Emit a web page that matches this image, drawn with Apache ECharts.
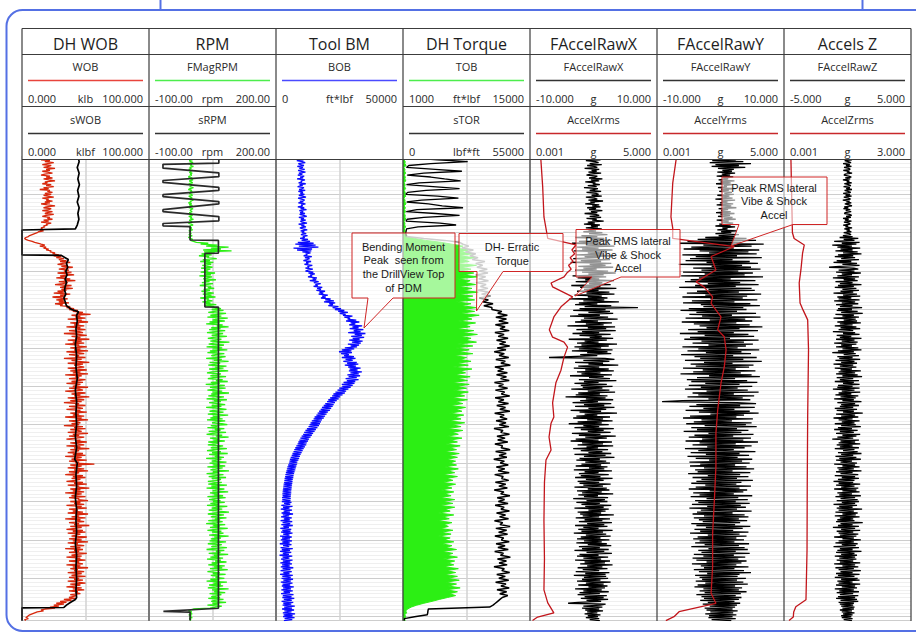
<!DOCTYPE html>
<html>
<head>
<meta charset="utf-8">
<script src="https://cdn.jsdelivr.net/npm/echarts@6/dist/echarts.min.js"></script>
<style>
html,body{margin:0;padding:0;background:#fff;}
#chart{width:916px;height:633px;}
</style>
</head>
<body>
<div id="chart"></div>
<script>
// ---------------- DATA ----------------
// fine noisy traces: one value every 0.25 depth units (depth 0..121)
// coarse traces (TOB, STOR): one value every 0.5 depth units (depth 0..121)
const FINE_STEP = 0.25;
const COARSE_STEP = 0.5;

const TRACK_TITLES = ['DH WOB','RPM','Tool BM','DH Torque','FAccelRawX','FAccelRawY','Accels Z'];
const CURVE1_LABELS = [
  ['WOB','0.000','klb','100.000'],
  ['FMagRPM','-100.00','rpm','200.00'],
  ['BOB','0','ft*lbf','50000'],
  ['TOB','1000','ft*lbf','15000'],
  ['FAccelRawX','-10.000','g','10.000'],
  ['FAccelRawY','-10.000','g','10.000'],
  ['FAccelRawZ','-5.000','g','5.000']
];
const CURVE2_LABELS = [
  ['sWOB','0.000','klbf','100.000'],
  ['sRPM','-100.00','rpm','200.00'],
  null,
  ['sTOR','0','lbf*ft','55000'],
  ['AccelXrms','0.001','g','5.000'],
  ['AccelYrms','0.001','g','5.000'],
  ['AccelZrms','0.001','g','3.000']
];
const CURVE1_RANGE = [[0,100],[-100,200],[0,50000],[1000,15000],[-10,10],[-10,10],[-5,5]];
const CURVE2_RANGE = [[0,100],[-100,200],null,[0,55000],[0.001,5],[0.001,5],[0.001,3]];

const WOB = [
21,17,24,19,15,22,18,25,20,16,23,21,17,26,19,22,16,20,24,18,
15,22,19,24,17,21,26,18,20,16,23,19,25,17,21,14,22,20,24,18,
23,17,20,25,16,21,19,24,18,22,15,20,26,19,17,23,21,16,24,20,
18,25,19,16,22,20,24,17,21,15,23,19,20,17,18,15,16,14,17,13,
12,10,8,6,5,3,2,3,5,8,10,13,15,18,14,19,17,21,19,23,
22,26,24,29,25,31,27,33,29,35,30,38,32,28,36,31,40,34,29,37,
33,39,28,36,41,30,35,27,38,33,42,29,36,32,26,39,34,30,40,31,
35,28,33,25,38,30,34,24,31,36,27,33,29,37,26,32,30,38,35,41,
37,44,40,48,43,54,39,46,42,50,36,47,44,52,38,45,41,49,35,46,
43,50,37,45,48,33,44,51,39,46,42,53,36,47,40,49,34,45,43,51,
38,46,41,52,35,44,49,37,45,42,50,33,47,39,44,53,36,48,41,45,
49,36,43,51,38,46,40,52,34,47,42,45,37,50,44,39,48,35,46,43,
40,52,37,45,48,34,43,50,39,46,41,53,36,44,49,38,47,33,45,42,
50,37,44,48,35,46,42,51,38,45,40,49,34,47,43,52,37,44,46,39,
45,33,48,41,50,38,44,47,36,52,40,45,37,49,43,35,46,42,51,38,
44,49,35,46,41,53,38,45,42,36,48,40,50,34,47,43,39,51,37,45,
42,57,38,47,44,36,49,41,52,37,45,43,34,48,40,50,39,46,42,35,
48,41,51,36,45,43,53,38,46,40,49,34,47,42,39,50,37,45,44,52,
38,46,41,49,35,47,43,51,37,44,40,48,36,52,42,45,39,50,34,46,
43,49,37,45,41,53,38,47,42,35,48,40,50,36,46,43,39,51,44,37,
47,40,52,36,44,42,49,38,46,34,48,41,45,37,51,43,39,47,35,46,
42,50,37,45,43,48,35,46,40,52,38,44,41,49,36,47,43,39,50,37,
45,41,48,36,44,50,38,46,42,35,47,40,49,37,44,42,46,38,43,40,
37,42,33,39,30,35,27,33,25,29,22,26,18,15,17,12,10,8,6,5,
4,3,5,2,3];

const SWOB_DEPTH = [0,1.5,3,4.5,6,7.5,9,10.5,12,13.5,15,16.5,18,19,19.3,25.8,25.9,26.5,27,28,29,30,31,32,33,34,35,36,37,38,39,40,40.6,41.5,43,45,47,49,52,55,58,61,64,67,70,73,76,79,80,83,86,89,92,95,98,101,104,107,110,113,115,115.5,116.3,117,117.6,117.7,121];
const SWOB = [44,45,43.5,45,44,45.2,43.8,44.8,43.5,45,44,44.8,43.5,42,0,0,31,34,36.5,35,36,34.5,35.5,34,35,34,33.5,34.5,33,34,35,39,44.5,43,43.5,42.5,43,42,43,42.5,43.5,42,43,42.5,43,42,43,41.5,43.5,42.5,43,42,43,42.5,43,42,43,42.5,43,42.5,43,42,38,35,33,0,0];

const FMAGRPM = [
-3,2,-6,0,3,-5,-1,4,-7,1,-2,5,-4,0,-6,3,-1,-5,2,-3,
1,-4,-7,2,-2,4,-5,0,3,-6,-1,2,-4,5,-3,-7,1,-2,4,-5,
-1,3,-6,-2,2,-4,5,-3,0,-7,1,-5,3,-2,-6,4,-1,-3,2,-5,
0,-4,3,-6,1,-2,5,-5,-1,2,-7,0,4,-3,-5,1,-2,3,-6,-1,
-4,0,-6,2,-3,-7,-1,3,-2,5,12,40,22,62,35,88,46,70,28,95,
30,55,24,48,18,42,36,60,27,44,21,52,33,47,26,38,50,23,45,31,
40,22,56,33,46,19,49,37,28,58,30,43,25,51,35,20,47,39,54,29,
44,24,38,53,27,48,32,57,21,41,36,50,26,45,34,59,30,52,55,70,
48,76,55,40,82,62,45,71,38,86,58,50,79,43,67,35,74,60,88,47,
69,42,80,56,37,75,63,48,84,52,39,71,60,45,90,54,41,77,66,36,
73,50,85,44,62,38,78,57,47,81,65,35,72,53,88,43,68,59,40,83,
55,76,42,64,87,49,37,70,61,45,82,52,39,74,58,86,46,67,34,79,
63,44,81,56,38,73,50,89,47,66,40,77,59,36,84,53,70,42,62,80,
48,71,35,65,83,54,43,76,60,39,87,51,68,45,74,37,80,57,49,72,
85,46,62,38,78,55,69,41,82,50,36,73,58,88,44,67,52,79,40,64,
57,39,75,61,46,84,53,37,70,49,86,42,66,55,77,35,71,60,48,83,
43,68,52,80,38,74,59,45,89,51,64,36,76,57,41,82,48,70,62,39,
72,55,40,84,47,67,36,78,60,50,87,44,63,53,75,38,81,56,42,69,
51,79,45,66,37,85,58,48,73,41,64,89,53,39,77,61,46,83,55,68,
40,74,60,35,80,52,67,44,86,57,38,71,49,76,63,42,88,54,70,46,
66,43,82,55,39,72,61,47,84,50,36,78,58,69,41,87,53,64,45,75,
37,70,56,83,48,62,40,79,53,73,44,86,59,38,67,51,81,46,65,57,
78,45,64,36,84,52,70,42,75,58,39,88,49,66,54,80,43,71,60,47,
68,40,76,55,47,82,50,63,38,72,57,44,5,-2,-7,1,-4,2,-6,0,
-3,2,-5,-1,-3];

const SRPM_DEPTH = [0,1.9,2.2,3.2,4.4,5.4,6.4,6.9,8.2,9.0,10.1,10.6,11.9,12.5,14.0,14.5,15.8,16.9,17.6,18.2,18.4,21.9,22.0,25.3,25.4,39.3,39.4,117.8,118.6,118.8,121];
const SRPM = [65,65,-67,-67,65,65,-67,-67,65,65,-67,-67,65,65,-67,-67,65,65,-67,-67,-3,-3,64,64,32,32,64,64,-66,-3,-3];

const BOB = [
9900,8500,11200,9400,10800,8200,10300,11500,8800,9700,11000,8400,10600,9200,11300,8700,10100,11600,9000,10400,
8600,11100,9500,10700,8300,11400,9800,10200,8900,11700,9300,10500,8500,11000,10300,9100,11500,8800,10600,9600,
11200,9000,10400,11800,8700,10000,11300,9400,10800,8800,11600,9900,10500,8600,11100,9700,12000,9200,10700,9500,
11400,9300,10900,12100,9000,11000,9800,11700,9600,10300,12200,8900,11200,10000,11800,9400,10700,12300,9700,11100,
10200,11900,9800,12400,10600,11300,9500,12600,10100,13400,8600,14800,7600,15600,9000,16700,6900,14200,8300,13900,
10400,13600,11700,12300,10900,14100,11400,13200,12100,10800,13800,11900,12700,11200,14300,12400,13000,11600,14500,12600,
11600,14700,12800,15300,13500,14200,12600,16100,14400,15800,13300,16800,14900,17600,15500,16400,14800,18200,16200,17700,
15900,19300,17100,18600,16800,20400,18200,19600,17700,21500,19400,22800,18900,23300,21000,22400,20600,24600,22300,25600,
23200,26900,24500,28300,25100,27400,26400,30100,26900,29200,28200,31600,27600,32800,29400,31200,28800,33900,30100,32500,
29000,34400,30600,33300,28400,35200,31000,33800,29600,34700,30200,32900,28800,34100,29900,33400,28300,32700,29400,31900,
27100,30800,25900,29700,24800,29900,25600,28700,26800,30700,25900,31300,27400,30200,26500,31800,28000,32400,27100,31500,
28400,33300,29000,32100,28700,33800,29300,32600,28100,33100,28600,31800,27400,32500,27900,31200,26600,30900,25900,30200,
26100,29400,24900,28500,24200,27600,23400,27100,22600,26200,22100,25300,21300,24700,20600,23900,20100,23200,19400,22700,
18800,22300,18100,21700,17600,21200,17000,20400,16400,19900,15900,19300,15200,18800,14800,18100,14100,17700,13600,17300,
13200,16900,12800,16300,12200,15700,11600,15200,11100,14600,10700,14100,10100,13600,9600,13000,9200,12600,8800,12100,
8500,11900,8000,11400,7600,10900,7200,10500,6900,10100,6500,9700,6200,9400,5800,9100,5500,8800,5300,8400,
5100,8300,4800,8000,4500,7800,4300,7600,4100,7300,3900,7100,3700,6900,3600,6800,3400,6600,3300,6500,
3200,6400,3000,6300,2900,6200,2800,6100,2700,6000,2600,6000,2500,5900,2600,5800,2400,5800,2500,5700,
2300,6100,3200,5600,2100,6500,2800,5300,1900,6300,3000,5500,2200,6700,2700,5200,2000,6200,3100,5400,
1800,6400,2600,5600,2100,6600,2900,5100,1700,6000,2500,5700,2000,6500,2800,5300,1600,6200,2400,5500,
1900,6300,2500,5400,1500,6100,2800,5200,1800,6600,2300,5500,1600,6000,2700,5100,1400,6400,2600,5300,
2000,6500,2700,5600,1700,6300,2400,5400,1900,6800,2600,5700,1800,6200,2900,5300,1600,6600,2500,5800,
2200,6700,2900,5800,1900,6500,2600,5600,2300,7000,2800,5900,2100,6600,3000,5500,2000,6900,2700,6100,
2500,7200,3100,6200,2200,6800,2900,6000,2600,7400,3200,6300,2400,7100,3300,6100,2700,7500,3000,6500,
2800,7300,3400,6400,3100];

const TOB = [
1150,1300,1100,1250,1200,1350,1080,1220,1180,1300,1120,1260,1200,1320,1100,1240,1170,1290,1130,1250,
1190,1310,1090,1230,1210,1340,1110,1270,1160,1300,1140,1250,1210,1330,1100,1220,1180,1290,1120,1260,
1200,1350,1500,2300,3500,5200,6400,7600,6900,8200,7300,8600,7100,8900,7500,8300,6800,9100,7400,8500,
7200,8800,7600,9200,6900,8400,7800,9000,7100,8600,7500,9300,7000,8700,7700,8900,6800,8500,7400,9100,
7600,8900,7200,9400,7900,8600,7100,9000,7700,8400,6900,8800,7500,9200,7300,8500,7800,9100,7000,8700,
6800,8300,7100,8700,6600,8000,7300,8500,6900,8200,6500,8600,7200,7900,6700,8400,7000,8100,6400,8300,
6900,8000,6500,8200,7000,7800,6300,8100,6700,7600,6200,7900,6800,7500,6100,7700,6600,7400,6000,7800,
6300,7400,5900,7600,6400,7100,5800,7500,6200,7000,5700,7300,6100,6900,5600,7200,6000,7000,5800,6800,
6100,6900,5600,7100,5900,6700,5400,7000,5800,6500,5300,6800,5700,6400,5200,6600,5500,6300,5100,6700,
5400,6500,5000,6700,5600,6200,4900,6600,5300,6100,4800,6400,5500,6000,5100,6500,5200,6300,4900,6200,
5500,6600,5200,6400,5700,6900,5300,6500,5800,7000,5400,6700,5900,6600,5500,7100,5800,6800,5600,7000,
5900,7200,5700,6900,6000,7300,5800,7000,6100,6800,5900,5000,4200,3300,2500,1900,1500,1300,1400,1200,
1300,1150,1250];

const STOR = [
8000,3000,15000,28000,12000,2500,1500,14000,25500,9000,1800,12000,18000,25000,7000,1500,13000,24500,10000,2000,
1200,15000,24000,8000,1600,11000,17000,26000,6000,1400,14000,24500,9000,1800,1300,16000,23000,6500,1500,1400,
1200,1300,1500,9000,18000,24500,26000,28500,25500,30500,27000,31500,29000,32500,30000,35500,31500,34500,32000,36500,
33000,36800,31500,35800,32800,37000,31800,36000,33500,36800,32400,37500,34000,38000,33000,37000,34500,39000,35000,38500,
38500,42800,41000,45200,40200,44800,41500,45600,40000,44200,42000,46000,39800,43800,41200,45500,40500,44500,41800,46200,
40800,44600,39500,43900,41600,45800,40200,44300,42400,46500,39800,43600,41000,45200,40500,44800,42200,46000,39600,43500,
41400,45300,40000,44000,42600,46200,39900,43700,41300,45700,40600,44400,41900,46300,39700,43800,42000,45100,40300,44600,
41700,45900,39400,43300,42300,46100,40700,44200,41000,45400,39800,43100,42500,46400,40100,44700,41600,45000,39300,43900,
42100,45600,40400,44100,41200,46000,39700,43400,42700,45800,40000,44500,41500,45200,39500,43700,42300,46300,40800,44000,
41300,45500,39900,43800,42400,46100,40500,44400,41800,45700,39600,43200,42000,46400,40200,44900,41400,45300,39800,43600,
42600,46000,40300,44200,41100,45600,39700,43500,42200,46500,40900,44800,41600,45100,39400,43900,42800,46200,40600,44300,
41500,45800,40100,44600,42400,46000,40700,44900,41900,45400,43000,42000,41000,40000,39000,37500,11000,10800,10700,10500,
5000,600,500];
// depth span of the grey-coloured section of sTOR
const STOR_GREY_SPAN = [21, 37];

const RAWX = [
0.4,-0.9,0.7,-0.2,1.1,-1.2,0.3,0.8,-0.6,1.3,-1.0,0.1,0.6,-1.4,0.9,-0.3,0.5,-0.8,1.2,-0.5,
-1.1,0.6,0.2,-0.7,1.4,-0.4,0.9,-1.3,0.3,-0.1,1.0,-0.9,0.5,-1.5,0.7,0.2,-0.6,1.2,-1.1,0.4,
0.8,-0.3,1.3,-1.2,0.1,0.6,-0.8,1.5,-0.5,0.2,-1.3,0.9,-0.2,1.1,-1.0,0.4,-0.7,1.4,-0.4,0.6,
-1.4,0.3,0.9,-0.6,1.2,-1.1,0.5,-0.2,1.6,-0.9,0.2,-1.5,1.0,-0.4,0.7,-1.2,1.3,-0.8,0.4,-1.6,
1.4,-0.7,2.2,-1.9,0.6,-2.8,1.7,-0.5,2.9,-2.3,1.1,-3.4,2.4,-1.2,3.3,-2.6,0.8,-1.8,3.0,-3.1,
2.1,-0.9,1.5,-2.7,3.4,-1.4,0.7,-3.2,2.6,-2.0,1.2,-3.6,2.8,-0.6,1.9,-2.4,3.1,-1.6,0.5,-2.9,
2.3,-1.8,3.5,-0.8,1.6,-3.3,2.0,-2.5,0.9,-1.3,3.2,-2.8,1.4,-0.7,2.7,-3.5,1.1,-2.1,3.6,-1.5,
0.8,-2.6,2.5,-1.1,3.3,-3.0,1.3,-0.9,2.2,-3.8,1.7,-1.6,4.0,-2.3,0.6,-2.9,2.8,-1.4,7.0,-2.2,
1.9,-3.2,2.6,-0.8,3.1,-2.4,1.0,-3.7,2.3,-1.5,3.8,-2.0,0.7,-2.9,2.9,-1.2,1.6,-4.1,3.4,-0.9,
2.0,-2.7,3.5,-1.8,0.9,-3.3,2.7,-2.2,1.3,-0.6,3.1,-3.9,2.1,-1.4,0.8,-2.6,3.7,-1.9,2.4,-3.0,
1.2,-2.3,3.0,-3.4,2.2,-1.0,2.8,-2.1,0.6,-3.6,-7.0,1.8,3.3,-1.6,2.5,-2.9,1.5,-0.8,3.9,-2.4,
0.9,-3.1,2.4,-1.3,3.2,-2.6,1.1,-1.9,2.9,-3.7,1.6,-0.7,2.6,-2.3,3.6,-1.5,0.8,-3.0,2.1,-2.0,
3.0,-1.7,1.4,-3.5,2.5,-0.9,3.4,-2.4,1.0,-2.8,2.2,-4.4,1.9,-1.2,3.1,-2.1,0.7,-3.3,2.8,-1.5,
1.7,-2.9,3.3,-0.8,2.0,-3.6,1.2,-2.2,3.7,-1.4,0.6,-2.7,2.6,-3.2,1.5,-1.0,3.0,-2.5,1.3,-3.9,
2.4,-1.6,0.9,-3.0,3.2,-2.0,1.6,-0.9,2.7,-3.4,1.1,-2.3,3.5,-1.3,2.1,-2.8,0.8,-3.6,2.9,-1.8,
1.5,-2.5,3.1,-1.1,0.7,-3.2,2.3,-2.0,1.4,-0.8,2.8,-3.0,1.9,-1.5,3.3,-2.2,1.0,-2.7,2.0,-1.3,
2.6,-1.9,1.2,-2.8,2.2,-0.7,1.7,-3.1,2.9,-1.4,0.8,-2.3,2.4,-2.0,1.1,-2.9,3.0,-1.2,1.6,-2.5,
0.9,-2.2,2.7,-1.6,1.5,-3.0,2.1,-0.9,2.5,-2.6,1.3,-1.8,3.1,-2.4,0.7,-1.5,2.3,-3.2,1.8,-1.1,
2.2,-2.7,1.0,-1.9,2.8,-1.3,1.6,-3.0,2.4,-0.8,1.9,-2.5,1.2,-2.1,3.2,-1.7,0.9,-2.8,2.6,-1.4,
1.4,-2.3,2.9,-1.0,1.7,-2.9,2.2,-1.6,0.8,-2.4,3.0,-1.9,1.5,-3.1,2.0,-1.2,2.7,-2.0,1.1,-2.6,
2.5,-1.5,1.3,-2.7,2.1,-0.9,2.8,-2.3,1.0,-1.8,2.4,-3.0,1.7,-1.1,2.9,-2.2,0.8,-2.6,2.3,-1.6,
1.2,-2.9,2.6,-1.4,1.8,-2.1,3.0,-1.0,1.4,-2.5,2.2,-1.7,0.9,-2.8,2.5,-1.3,1.9,-3.1,2.0,-1.5,
2.3,-1.8,1.1,-2.6,2.7,-1.2,1.6,-2.4,2.2,-0.8,1.8,-2.9,1.3,-1.6,2.4,-2.2,1.0,-2.5,2.1,-1.4,
1.6,-2.0,2.3,-1.1,1.2,-2.4,-4.0,1.9,1.1,-1.6,1.4,-1.8,0.9,-1.3,1.5,-1.0,0.6,-1.4,1.1,-0.9,
0.7,-1.2,0.9,-0.6,1.0];

const RMSX_DEPTH = [0,1.1,8,15.9,21.5,23.2,24.5,25.5,26.5,27.5,28.5,29.5,30.5,31.5,33.1,34.1,36.7,39.3,41.95,45.3,47.2,48.5,49.8,52.4,55.8,59.1,64.3,68,69.6,73.2,76.6,79.2,85,95,105,113,116.4,119,120.1,121];
const RMSX = [0.42,0.43,0.5,0.55,0.70,1.81,1.65,1.76,1.58,1.70,1.52,1.62,1.45,1.34,0.83,0.89,1.68,1.22,0.94,0.76,0.89,1.34,1.48,1.34,1.22,1.02,0.89,0.94,0.83,0.75,0.83,0.63,0.57,0.55,0.57,0.55,0.70,0.94,0.30,0.10];

const RAWY = [
0.9,-0.2,1.7,0.1,2.4,-1.3,3.6,-1.7,4.8,-0.8,2.9,-1.4,3.9,-0.4,2.1,0.3,1.8,-0.5,2.3,0.2,
1.5,-0.6,2.0,0.4,1.2,-0.3,2.2,0.0,1.6,-0.7,1.9,0.5,1.0,-0.4,2.4,0.1,1.3,-0.2,1.8,0.6,
2.1,-0.5,1.4,0.3,1.9,-0.8,2.3,0.2,1.1,-0.1,2.0,-0.6,1.7,0.4,2.5,-0.3,1.2,0.1,1.6,-0.7,
2.2,0.0,1.5,-0.4,1.9,0.5,2.4,-0.6,1.3,0.2,2.0,-0.2,1.6,-0.8,2.3,0.3,1.1,-0.5,2.6,0.1,
1.7,-0.8,2.9,-0.3,2.2,-2.4,4.1,-3.6,5.6,-5.2,3.2,-6.4,6.8,-2.7,4.9,-4.6,2.1,-5.8,6.1,-3.3,
4.4,-1.8,5.7,-6.0,2.6,-3.9,6.5,-4.8,1.9,-5.5,4.6,-2.2,5.9,-6.6,3.4,-1.4,4.8,-4.3,6.3,-3.0,
2.8,-5.9,5.1,-2.5,3.8,-6.2,6.7,-3.4,1.6,-4.7,5.5,-5.6,3.1,-2.0,6.0,-4.0,2.4,-6.5,4.9,-1.9,
5.4,-3.7,2.9,-5.3,6.4,-2.4,4.2,-6.0,3.5,-1.6,5.8,-4.5,2.2,-5.9,4.7,-3.1,6.2,-2.7,3.6,-5.0,
4.1,-6.3,2.6,-3.8,5.6,-4.9,1.8,-2.9,6.3,-5.5,3.9,-1.7,5.0,-6.1,2.5,-4.2,4.6,-3.3,6.6,-2.2,
3.0,-5.1,5.9,-3.6,2.1,-6.4,4.4,-2.5,5.3,-4.8,1.5,-5.7,6.0,-3.0,3.7,-4.4,5.1,-1.9,4.0,-6.0,
2.7,-3.5,6.1,-5.2,3.3,-2.3,4.8,-6.2,2.0,-4.1,5.7,-3.2,3.6,-5.6,6.5,-2.6,1.9,-4.7,5.2,-3.9,
4.5,-5.9,2.4,-2.8,5.5,-4.3,3.2,-6.3,4.9,-1.8,6.2,-3.7,2.3,-5.3,4.2,-4.6,5.8,-2.4,3.0,-5.0,
5.0,-3.1,2.7,-5.6,4.3,-2.2,6.0,-4.4,2.1,-3.5,5.3,-5.2,3.5,-1.9,4.7,-6.0,-9.2,2.6,5.6,-3.8,
3.1,-4.9,5.4,-2.7,2.2,-5.5,4.6,-3.4,6.0,-1.6,3.7,-4.8,2.5,-5.9,5.1,-3.0,1.8,-4.2,4.9,-5.4,
4.0,-2.5,5.7,-4.6,2.6,-3.7,4.4,-5.8,3.3,-1.9,5.2,-4.1,2.0,-5.0,4.8,-2.9,3.6,-5.5,5.9,-3.3,
2.4,-4.4,4.9,-2.1,3.8,-5.6,2.1,-3.5,5.5,-4.7,3.0,-2.3,4.5,-5.2,2.7,-3.9,5.0,-1.8,3.4,-4.9,
4.6,-3.2,2.3,-4.8,4.1,-2.6,5.3,-4.0,1.9,-3.6,4.7,-5.1,3.1,-2.0,4.4,-4.4,2.6,-3.0,5.1,-3.8,
3.3,-4.6,2.5,-2.4,4.8,-3.9,3.0,-5.0,4.2,-1.7,3.6,-4.3,2.1,-3.3,5.0,-4.7,2.8,-2.2,4.3,-4.0,
2.4,-3.5,4.6,-4.5,3.2,-2.1,4.0,-4.9,2.6,-3.1,4.9,-3.7,1.9,-4.4,3.8,-2.6,4.4,-4.2,2.9,-3.4,
4.2,-2.8,3.1,-4.6,2.3,-3.8,4.7,-2.3,3.5,-4.1,2.0,-3.2,4.4,-4.8,3.0,-2.0,4.1,-3.6,2.5,-4.3,
3.7,-3.3,2.2,-4.0,4.5,-2.5,2.9,-4.6,3.8,-1.9,4.3,-3.5,2.4,-3.0,4.6,-4.2,2.1,-2.7,3.9,-4.4,
2.8,-3.8,4.1,-2.2,3.3,-4.5,2.5,-3.1,4.4,-2.6,2.2,-4.2,3.7,-3.4,4.8,-2.1,3.0,-4.0,2.7,-3.3,
4.0,-2.9,2.6,-3.9,3.6,-2.4,4.3,-3.6,2.3,-4.1,3.4,-2.7,2.9,-3.3,4.1,-2.5,3.2,-3.8,2.4,-3.0,
3.3,-2.6,2.9,-3.2,2.2,-2.0,3.1,-2.8,2.6,-1.7,2.3,-2.5,1.9,-2.2,2.7,-1.6,2.0,-2.4,2.5,-1.8,
1.9,-1.9,2.4,-1.4,1.7];

const RMSY_DEPTH = [0,1.1,7.1,15.9,18.8,21.5,23.6,26.2,29.7,32.8,34.1,36.7,38.4,41.9,45.3,47.1,50.5,54.9,59.2,66.2,72.2,80.9,89.6,98.3,107,113.9,116.5,118.7,120,121];
const RMSY = [0.78,0.75,0.62,0.55,0.62,0.62,3.05,2.13,2.32,1.54,1.85,2.19,2.13,2.52,2.39,2.65,2.72,2.65,2.52,2.39,2.32,2.32,2.26,2.19,2.19,2.13,2.32,0.87,0.67,0.35];

const RAWZ = [
0.12,-0.3,0.25,-0.08,0.34,-0.22,0.05,0.28,-0.35,0.18,-0.12,0.31,-0.27,0.09,0.22,-0.33,0.15,-0.05,0.36,-0.2,
-0.28,0.1,0.3,-0.18,0.21,-0.36,0.14,-0.06,0.33,-0.25,0.08,0.27,-0.31,0.19,-0.1,0.35,-0.23,0.04,0.26,-0.34,
0.2,-0.15,0.32,-0.29,0.07,0.24,-0.37,0.17,-0.09,0.3,-0.21,0.13,0.35,-0.26,0.06,-0.32,0.23,-0.14,0.29,-0.19,
-0.24,0.16,0.33,-0.11,0.27,-0.35,0.09,-0.2,0.31,-0.28,0.14,0.22,-0.34,0.05,-0.16,0.36,-0.25,0.18,-0.07,0.3,
-0.3,0.12,0.28,-0.36,0.4,-0.62,0.85,-0.3,0.55,-1.05,0.95,-0.45,0.7,-1.2,0.35,-0.8,1.0,-0.55,0.4,-0.95,
0.8,-0.35,1.1,-0.75,0.45,-1.0,0.6,-0.5,0.9,-0.85,0.3,-1.1,0.75,-0.4,0.95,-0.65,-1.45,0.5,0.85,-0.7,
0.55,-0.9,1.05,-0.45,0.35,-0.8,0.9,-1.15,0.6,-0.3,0.8,-0.95,0.4,-0.6,1.1,-0.75,0.5,-1.0,0.7,-0.4,
0.9,-0.55,0.45,-1.1,0.75,-0.35,1.0,-0.8,0.3,-0.7,0.95,-1.05,0.6,-0.45,0.85,-0.9,0.4,-0.6,1.15,-0.75,
0.35,-0.85,0.8,-0.5,1.2,-0.95,0.5,-0.4,0.9,-1.1,0.65,-0.3,0.75,-0.8,1.05,-0.6,0.4,-1.0,0.7,-0.55,
1.0,-0.7,0.45,-1.15,0.6,-0.35,0.95,-0.85,0.3,-0.6,1.1,-0.9,0.55,-0.45,0.8,-1.05,0.7,-0.5,0.35,-0.9,
0.85,-0.4,1.1,-0.75,0.5,-1.2,0.65,-0.3,0.9,-0.8,0.4,-0.65,1.0,-0.95,0.55,-0.5,0.75,-1.1,0.45,-0.6,
0.7,-1.0,0.35,-0.55,1.05,-0.7,0.6,-0.9,0.8,-0.4,1.15,-0.85,0.45,-0.6,0.9,-1.0,0.5,-0.35,0.95,-0.75,
0.4,-0.8,0.95,-1.15,0.55,-0.45,1.0,-0.7,0.3,-0.95,0.85,-0.55,0.65,-1.05,0.5,-0.4,1.1,-0.8,0.6,-0.5,
0.9,-0.6,0.45,-1.0,0.75,-0.85,0.5,-0.35,1.2,-0.9,0.6,-0.5,0.85,-1.1,0.4,-0.7,0.95,-0.45,0.55,-1.0,
0.65,-0.5,1.05,-0.75,0.35,-1.05,0.8,-0.6,0.5,-0.9,1.0,-0.4,0.7,-0.8,0.45,-1.2,0.9,-0.55,0.6,-0.7,
1.0,-0.85,0.4,-0.6,0.9,-1.0,0.55,-0.35,0.8,-0.75,1.1,-0.5,0.45,-0.95,0.7,-0.65,1.05,-0.9,0.35,-0.55,
0.75,-1.05,0.6,-0.4,0.95,-0.8,0.5,-0.7,1.1,-0.9,0.4,-0.55,0.85,-1.0,0.6,-0.45,0.9,-0.75,0.55,-1.1,
0.45,-0.7,1.0,-0.9,0.55,-0.5,0.85,-1.05,0.7,-0.4,0.95,-0.8,0.35,-0.65,1.05,-0.95,0.6,-0.55,0.8,-0.85,
0.9,-0.45,0.6,-1.1,0.75,-0.65,0.4,-0.85,1.15,-0.7,0.5,-0.95,0.8,-0.4,0.65,-1.0,0.95,-0.6,0.45,-0.8,
0.55,-0.9,1.2,-0.55,0.4,-0.75,0.9,-1.15,0.6,-0.5,1.0,-0.85,0.45,-0.7,0.85,-0.6,0.7,-1.05,0.5,-0.4,
1.05,-0.7,0.5,-0.95,0.8,-0.45,0.65,-1.1,0.9,-0.6,0.4,-0.8,1.1,-0.9,0.55,-0.5,0.75,-1.0,0.6,-0.65,
0.7,-0.85,0.45,-0.6,1.0,-1.05,0.6,-0.4,0.85,-0.95,0.5,-0.7,1.05,-0.55,0.4,-0.9,0.95,-0.75,0.55,-1.0,
0.8,-0.5,0.95,-0.8,0.4,-0.7,1.0,-0.9,0.6,-0.45,0.75,-1.0,0.5,-0.65,0.9,-0.85,0.45,-0.6,0.85,-0.75,
0.6,-0.9,0.75,-0.55,0.85,-0.7,0.5,-0.6,0.45,-0.5,0.55,-0.4,0.5,-0.6,0.35,-0.45,0.55,-0.35,0.4,-0.5,
0.3,-0.45,0.4,-0.3,0.35];

const RMSZ_DEPTH = [0,1.1,20,21.5,23.2,25.3,29.7,33.1,38.3,40.1,42.7,50.5,68,85,102.6,115.6,117.4,118.8,120.1,121];
const RMSZ = [0.16,0.165,0.2,0.24,0.48,0.44,0.40,0.36,0.38,0.45,0.56,0.58,0.56,0.55,0.545,0.52,0.28,0.23,0.22,0.12];

const CALLOUT_TEXTS = [
  ['Bending Moment','Peak  seen from','the DrillView Top','of PDM'],
  ['DH- Erratic','Torque'],
  ['Peak RMS lateral','Vibe & Shock','Accel'],
  ['Peak RMS lateral','Vibe & Shock','Accel']
];

// ---------------- LAYOUT / STYLE ----------------
const TL = 22, TW = 127, NT = 7;
const GRID_TOP = 155.9, DEPTH_MAX = 121, PX_PER_DEPTH = 3.84;
const HEAD = {top:28.5, title:43.5, div1:54.5, n1:66.5, l1:80.5, s1:98, div2:106.5, n2:119, l2:133.5, s2:151, bottom:159.5};
const FONT = '"Open Sans","Noto Sans",sans-serif';
const CFONT = '"Liberation Sans",Arial,sans-serif';
const COL = {red:'#d8280c', green:'#2cef14', blue:'#0b0bff', black:'#000000', rms:'#c2161c', grey:'#8a8a8a'};
const HEAD_C1 = ['#e8443c','#4ded4d','#4a4aff','#4ded4d','#333','#333','#333'];
const HEAD_C2 = ['#333','#333',null,'#333','#c8282b','#c8282b','#c8282b'];
const FINE_W = 1.3;
const NOISE_W = 1.5;
const CALLOUT_GEOM = [
  {box:[352,233,455,298], base:[368,393], tip:[364,328], cx:403.5, y0:246.5, lh:13.8},
  {box:[459,233.5,563,271.5], base:[477,503], tip:[476.5,311], cx:512, y0:247, lh:13.5},
  {box:[576,229.5,680,277], base:[592,621], tip:[575,296], cx:628, y0:241, lh:13.5},
  {box:[722,177,827,224.5], base:[739,793], tip:[731,246], cx:774, y0:187.5, lh:13.5}
];

// ---------------- BUILD ----------------
const stepPairs = (vals, step) => vals.map((v, i) => [v, i * step]);
const pairs = (ds, vs) => vs.map((v, i) => [v, ds[i]]);
const DEPTH_CATS = TOB.map((_, i) => String(i * COARSE_STEP));

const grids = [], xAxes = [], yAxes = [];
for (let i = 0; i < NT; i++) {
  grids.push({left: TL + TW * i, top: GRID_TOP, width: TW, height: DEPTH_MAX * PX_PER_DEPTH});
  const r1 = CURVE1_RANGE[i];
  const r2 = CURVE2_RANGE[i] || r1;
  const mid = i < 4;
  xAxes.push({type:'value', gridIndex:i, min:r1[0], max:r1[1], interval:(r1[1]-r1[0])/2,
    axisLine:{show:false}, axisTick:{show:false}, axisLabel:{show:false},
    splitLine:{show:mid, lineStyle:{color:'#d2d2d2', width:1.5}}});
  xAxes.push({type:'value', gridIndex:i, min:r2[0], max:r2[1], position:'top',
    axisLine:{show:false}, axisTick:{show:false}, axisLabel:{show:false}, splitLine:{show:false}});
  yAxes.push({type:'value', gridIndex:i, min:0, max:DEPTH_MAX, inverse:true, interval:10,
    axisLine:{show:false}, axisTick:{show:false}, axisLabel:{show:false},
    splitLine:{show:true, lineStyle:{color:'#cdcdcd', width:1}},
    minorTick:{show:false, splitNumber:10},
    minorSplitLine:{show:true, lineStyle:{color:'#efefef', width:1}}});
}
// category depth axis for the filled TOB curve (grid 3)
yAxes.push({type:'category', gridIndex:3, data:DEPTH_CATS, boundaryGap:false, inverse:true, show:false});

const base = {type:'line', symbol:'none', showSymbol:false, animation:false, silent:true, smooth:false};
function ser(xi, yi, data, color, w, extra) {
  return Object.assign({}, base, {xAxisIndex:xi, yAxisIndex:yi, data:data,
    lineStyle:{color:color, width:w}, itemStyle:{color:color}}, extra || {});
}

const storPairs = stepPairs(STOR, COARSE_STEP);
const storTop = storPairs.filter(p => p[1] <= STOR_GREY_SPAN[0]);
const storGrey = storPairs.filter(p => p[1] >= STOR_GREY_SPAN[0] && p[1] <= STOR_GREY_SPAN[1]);
const storBottom = storPairs.filter(p => p[1] >= STOR_GREY_SPAN[1]);

const series = [
  ser(0, 0, stepPairs(WOB, FINE_STEP), COL.red, FINE_W),
  ser(0, 0, pairs(SWOB_DEPTH, SWOB), COL.black, 1.7),
  ser(2, 1, stepPairs(FMAGRPM, FINE_STEP), COL.green, FINE_W),
  ser(2, 1, pairs(SRPM_DEPTH, SRPM), '#2a2a2a', 1.7),
  ser(4, 2, stepPairs(BOB, FINE_STEP), COL.blue, FINE_W),
  ser(6, 7, TOB, COL.green, 1, {areaStyle:{color:COL.green, opacity:1, origin:'start'}}),
  ser(7, 3, storTop, COL.black, 1.3),
  ser(7, 3, storGrey, COL.grey, NOISE_W),
  ser(7, 3, storBottom, COL.black, NOISE_W),
  ser(8, 4, stepPairs(RAWX, FINE_STEP), COL.black, FINE_W),
  ser(9, 4, pairs(RMSX_DEPTH, RMSX), COL.rms, 1.3),
  ser(10, 5, stepPairs(RAWY, FINE_STEP), COL.black, FINE_W),
  ser(11, 5, pairs(RMSY_DEPTH, RMSY), COL.rms, 1.3),
  ser(12, 6, stepPairs(RAWZ, FINE_STEP), COL.black, FINE_W),
  ser(13, 6, pairs(RMSZ_DEPTH, RMSZ), COL.rms, 1.3)
];

// ---------------- GRAPHICS (header, frame, callouts) ----------------
const G = [];
function txt(x, y, s, size, align, color, font, z) {
  return {type:'text', z:z || 102, style:{x:x, y:y, text:s, fill:color || '#222',
    font: size + 'px ' + (font || FONT), align:align || 'center', verticalAlign:'middle',
    textAlign:align || 'center', textVerticalAlign:'middle'}};
}
function ln(x1, y1, x2, y2, color, w, z) {
  return {type:'line', z:z || 101, shape:{x1:x1, y1:y1, x2:x2, y2:y2}, style:{stroke:color, lineWidth:w || 1}};
}
G.push({type:'rect', z:100, shape:{x:TL, y:20, width:TW * NT, height:HEAD.bottom - 20}, style:{fill:'#fff'}});
const RIGHT = TL + TW * NT;
[HEAD.top, HEAD.div1, HEAD.bottom].forEach(y => G.push(ln(TL, y, RIGHT, y, '#3c3c3c', 1.2)));
for (let i = 0; i < NT; i++) {
  const L = TL + TW * i, R = L + TW, C = L + TW / 2;
  G.push(txt(C, HEAD.title, TRACK_TITLES[i], 16, 'center', '#1e1e1e'));
  const c1 = CURVE1_LABELS[i];
  G.push(txt(C, HEAD.n1, c1[0], 11, 'center', '#2a2a2a'));
  G.push(ln(L + 6, HEAD.l1, R - 6, HEAD.l1, HEAD_C1[i], 1.6));
  G.push(txt(L + 6, HEAD.s1, c1[1], 11, 'left', '#2a2a2a'));
  G.push(txt(C, HEAD.s1, c1[2], 11, 'center', '#2a2a2a'));
  G.push(txt(R - 6, HEAD.s1, c1[3], 11, 'right', '#2a2a2a'));
  const c2 = CURVE2_LABELS[i];
  if (c2) {
    G.push(ln(L, HEAD.div2, R, HEAD.div2, '#3c3c3c', 1.2));
    G.push(txt(C, HEAD.n2, c2[0], 11, 'center', '#2a2a2a'));
    G.push(ln(L + 6, HEAD.l2, R - 6, HEAD.l2, HEAD_C2[i], 1.6));
    G.push(txt(L + 6, HEAD.s2, c2[1], 11, 'left', '#2a2a2a'));
    G.push(txt(C, HEAD.s2, c2[2], 11, 'center', '#2a2a2a'));
    G.push(txt(R - 6, HEAD.s2, c2[3], 11, 'right', '#2a2a2a'));
  }
}
for (let i = 0; i <= NT; i++) {
  const x = TL + TW * i;
  G.push(ln(x, HEAD.top, x, 621, '#3c3c3c', 1.2, 105));
}
// callouts
CALLOUT_GEOM.forEach((g, k) => {
  const [x0, y0, x1, y1] = g.box;
  G.push({type:'polygon', z:110, shape:{points:[[x0,y0],[x1,y0],[x1,y1],[g.base[1],y1],g.tip,[g.base[0],y1],[x0,y1]]},
    style:{fill:'rgba(255,255,255,0.58)', stroke:'#cf2525', lineWidth:1}});
  CALLOUT_TEXTS[k].forEach((s, j) => G.push(txt(g.cx, g.y0 + j * g.lh, s, 11, 'center', '#1a1a1a', CFONT, 111)));
});
// blue frame
G.push({type:'rect', z:120, shape:{x:6.5, y:10, width:940, height:621, r:16}, style:{fill:'none', stroke:'#5470e4', lineWidth:2}});
G.push(ln(160.5, 0, 160.5, 10, '#5470e4', 2, 120));
G.push(ln(862.5, 0, 862.5, 10, '#5470e4', 2, 120));

const chart = echarts.init(document.getElementById('chart'), null, {renderer:'svg'});
chart.setOption({
  animation:false,
  backgroundColor:'#fff',
  grid: grids,
  xAxis: xAxes,
  yAxis: yAxes,
  series: series,
  graphic: {elements: G}
});
</script>
</body>
</html>
